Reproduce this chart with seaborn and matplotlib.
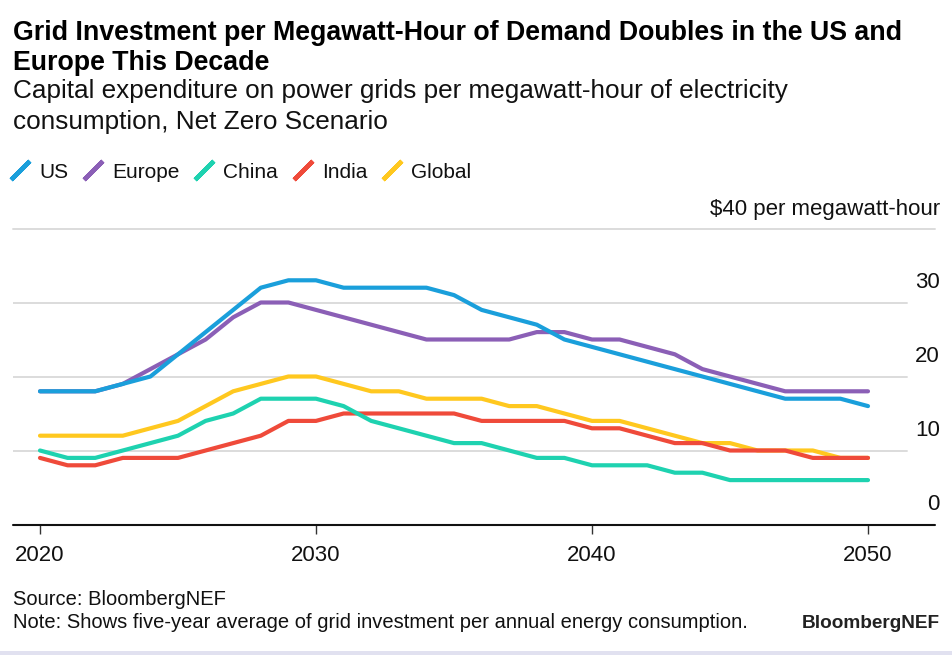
import matplotlib
matplotlib.use("Agg")
import matplotlib.pyplot as plt
import matplotlib.transforms as mtransforms
from matplotlib.lines import Line2D
from matplotlib.patches import Rectangle
import seaborn as sns
import pandas as pd

years = list(range(2020, 2051))
us = [18, 18, 18, 19, 20, 23, 26, 29, 32, 33, 33, 32, 32, 32, 32, 31, 29, 28, 27, 25,
      24, 23, 22, 21, 20, 19, 18, 17, 17, 17, 16]
europe = [18, 18, 18, 19, 21, 23, 25, 28, 30, 30, 29, 28, 27, 26, 25, 25, 25, 25, 26, 26,
          25, 25, 24, 23, 21, 20, 19, 18, 18, 18, 18]
china = [10, 9, 9, 10, 11, 12, 14, 15, 17, 17, 17, 16, 14, 13, 12, 11, 11, 10, 9, 9,
         8, 8, 8, 7, 7, 6, 6, 6, 6, 6, 6]
india = [9, 8, 8, 9, 9, 9, 10, 11, 12, 14, 14, 15, 15, 15, 15, 15, 14, 14, 14, 14,
         13, 13, 12, 11, 11, 10, 10, 10, 9, 9, 9]
global_ = [12, 12, 12, 12, 13, 14, 16, 18, 19, 20, 20, 19, 18, 18, 17, 17, 17, 16, 16, 15,
           14, 14, 13, 12, 11, 11, 10, 10, 10, 9, 9]

series_names = ["US", "Europe", "China", "India", "Global"]
series_values = [us, europe, china, india, global_]
colors = {"US": "#1a9fdb", "Europe": "#8b5fb6", "China": "#1ed2b0",
          "India": "#ef4a3a", "Global": "#ffc81f"}

x_ticks = [2020, 2030, 2040, 2050]
y_ticks = [0, 10, 20, 30, 40]
y_tick_labels = ["0", "10", "20", "30", "\\$40 per megawatt-hour"]

title_lines = ["Grid Investment per Megawatt-Hour of Demand Doubles in the US and",
               "Europe This Decade"]
subtitle_lines = ["Capital expenditure on power grids per megawatt-hour of electricity",
                  "consumption, Net Zero Scenario"]
source_text = "Source: BloombergNEF"
note_text = "Note: Shows five-year average of grid investment per annual energy consumption."
brand_text = "BloombergNEF"

rows = []
for name, vals in zip(series_names, series_values):
    for yr, v in zip(years, vals):
        rows.append({"year": yr, "value": v, "region": name})
df = pd.DataFrame(rows)

sns.set_theme(style="white")
plt.rcParams["font.family"] = ["Liberation Sans", "DejaVu Sans"]

W, H = 952, 655
fig = plt.figure(figsize=(W / 100, H / 100), dpi=100)
fig.patch.set_facecolor("white")

def fx(px):
    return px / W

def fy(py):
    return 1 - py / H

ax_left, ax_right, ax_top, ax_bottom = 13, 935, 228.5, 524.5
ax = fig.add_axes([fx(ax_left), fy(ax_bottom), (ax_right - ax_left) / W, (ax_bottom - ax_top) / H])
ax.set_facecolor("white")

draw_order = ["Global", "India", "China", "Europe", "US"]
sns.lineplot(data=df, x="year", y="value", hue="region", hue_order=draw_order,
             palette=colors, linewidth=3.0, legend=False, ax=ax, zorder=3)
for ln in ax.lines:
    ln.set_solid_capstyle("round")
    ln.set_solid_joinstyle("round")
    ln.set_clip_on(False)

px_per_year = 27.6
ax.set_xlim(2020 - (40 - ax_left) / px_per_year, 2050 + (ax_right - 868) / px_per_year)
ax.set_ylim(0, 40)

for s in ["left", "right", "top", "bottom"]:
    ax.spines[s].set_visible(False)

grid_xmax = (907 - ax_left) / (ax_right - ax_left)
for yv in [10, 20, 30]:
    ax.axhline(yv, xmin=0, xmax=grid_xmax, color="#dcdcdc", lw=1.4, zorder=1)
ax.axhline(40, color="#dcdcdc", lw=1.4, zorder=1, clip_on=False)
ax.axhline(0, color="#111111", lw=1.5, zorder=4, clip_on=False)

ax.set_xticks(x_ticks)
ax.set_xticklabels([str(t) for t in x_ticks])
ax.tick_params(axis="x", bottom=True, length=6.3, width=1, color="#333333",
               labelsize=16, pad=8.5, labelcolor="#111111")

ax.yaxis.tick_right()
ax.set_yticks(y_ticks)
ax.set_yticklabels(y_tick_labels)
ax.tick_params(axis="y", right=True, length=0, labelsize=16, pad=3.6, labelcolor="#111111")
offset = mtransforms.ScaledTranslation(0, 14 / 100, fig.dpi_scale_trans)
for lab in ax.get_yticklabels():
    lab.set_horizontalalignment("right")
    lab.set_verticalalignment("baseline")
    lab.set_transform(lab.get_transform() + offset)

ax.set_xlabel("")
ax.set_ylabel("")

# Titles
fig.text(fx(13), fy(40.5), title_lines[0], fontsize=19.3, fontweight="bold", va="baseline", ha="left", color="#000000")
fig.text(fx(13), fy(70.5), title_lines[1], fontsize=19.3, fontweight="bold", va="baseline", ha="left", color="#000000")
fig.text(fx(13), fy(98), subtitle_lines[0], fontsize=18.8, va="baseline", ha="left", color="#111111")
fig.text(fx(13), fy(128.5), subtitle_lines[1], fontsize=18.8, va="baseline", ha="left", color="#111111")

# Legend
handles = [Line2D([], [], linestyle="none", marker=(2, 2, -45), markersize=19,
                  markeredgewidth=3.2, color=colors[n]) for n in series_names]
fig.legend(handles, series_names, loc="center left", bbox_to_anchor=(fx(11), fy(172)),
           ncol=5, frameon=False, fontsize=15, handlelength=0.9, handletextpad=0.45,
           columnspacing=0.75, borderaxespad=0, borderpad=0, labelcolor="#111111")

# Footer
fig.text(fx(13), fy(605), source_text, fontsize=14.5, va="baseline", ha="left", color="#111111")
fig.text(fx(13), fy(628), note_text, fontsize=14.5, va="baseline", ha="left", color="#111111")
fig.text(fx(940), fy(628), brand_text, fontsize=13.7, fontweight="bold", va="baseline", ha="right", color="#222222")

fig.patches.append(Rectangle((0, 0), 1, 4 / H, transform=fig.transFigure,
                             facecolor="#e1e1f0", edgecolor="none", zorder=0))

fig.savefig("out.png", dpi=100, facecolor="white")
